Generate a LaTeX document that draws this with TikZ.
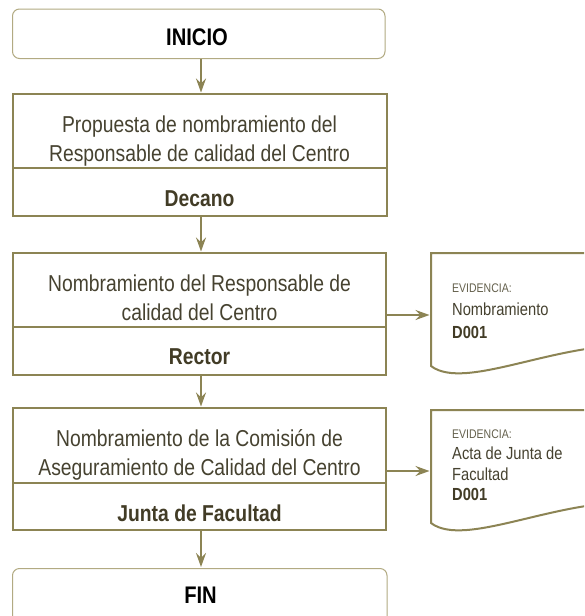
\documentclass[tikz,border=0pt]{standalone}
\usepackage{fontspec}
\setmainfont{Liberation Sans}
\newfontfamily\narrowf{Liberation Sans}[FakeStretch=0.84]
\usetikzlibrary{arrows.meta}
\definecolor{bordercol}{RGB}{140,132,84}
\definecolor{lightbord}{RGB}{178,170,130}
\definecolor{txtcol}{RGB}{70,66,48}
\definecolor{boldcol}{RGB}{66,60,38}
\definecolor{evcol}{RGB}{100,96,76}
\tikzset{
  stepbox/.style={draw=bordercol, line width=2pt, rectangle, inner sep=0pt, outer sep=0pt, minimum width=#1, minimum height=122pt},
  termbox/.style={draw=lightbord, line width=1pt, rectangle, rounded corners=7pt, inner sep=0pt, outer sep=0pt},
  arr/.style={draw=bordercol, line width=2pt, -{Stealth[length=14pt,width=10pt,inset=5pt]}, shorten >=1.5pt},
  divline/.style={draw=bordercol, line width=2pt},
  docshape/.style={draw=bordercol, line width=2pt},
  maintxt/.style={anchor=base, text=txtcol, font=\narrowf\fontsize{23}{28}\selectfont, inner sep=0pt},
  boldtxt/.style={anchor=base, text=boldcol, font=\narrowf\fontsize{23}{28}\selectfont\bfseries, inner sep=0pt},
  termtxt/.style={anchor=base, text=black, font=\narrowf\fontsize{24}{28}\selectfont\bfseries, inner sep=0pt},
  evtxt/.style={anchor=base west, text=evcol, font=\narrowf\fontsize{12.5}{14}\selectfont, inner sep=0pt},
  doctxt/.style={anchor=base west, text=txtcol, font=\narrowf\fontsize{17.5}{20}\selectfont, inner sep=0pt},
  docbold/.style={anchor=base west, text=boldcol, font=\narrowf\fontsize{17.5}{20}\selectfont\bfseries, inner sep=0pt}
}
\begin{document}
\begin{tikzpicture}[x=1pt,y=-1pt]
\clip (0,0) rectangle (584,616);
\fill[white] (0,0) rectangle (584,616);

% terminal boxes
\node[termbox, minimum width=372.5pt, minimum height=49.5pt] (inicio) at (198.75,33.75) {};
\node[termtxt] (tinicio) at (197,45) {INICIO};
\node[termbox, minimum width=374.5pt, minimum height=60pt] (fin) at (199.75,598.5) {};
\node[termtxt] (tfin) at (200.5,603.3) {FIN};

% step 1
\node[stepbox=374pt] (b1) at (199.5,155) {};
\draw[divline] (b1.west |- 0,168) -- (b1.east |- 0,168);
\node[maintxt] (b1a) at (199.5,132.5) {Propuesta de nombramiento del};
\node[maintxt] (b1b) at (199.5,161.5) {Responsable de calidad del Centro};
\node[boldtxt] (b1c) at (199.5,206) {Decano};

% step 2
\node[stepbox=373.5pt] (b2) at (199.25,314) {};
\draw[divline] (b2.west |- 0,327) -- (b2.east |- 0,327);
\node[maintxt] (b2a) at (199.5,291.5) {Nombramiento del Responsable de};
\node[maintxt] (b2b) at (199.5,320.5) {calidad del Centro};
\node[boldtxt] (b2c) at (199.5,364) {Rector};

% step 3
\node[stepbox=373.5pt] (b3) at (199.25,469) {};
\draw[divline] (b3.west |- 0,483) -- (b3.east |- 0,483);
\node[maintxt] (b3a) at (199.5,446.5) {Nombramiento de la Comisi\'on de};
\node[maintxt] (b3b) at (199.5,475.5) {Aseguramiento de Calidad del Centro};
\node[boldtxt] (b3c) at (199.5,521) {Junta de Facultad};

% documents
\node[inner sep=0pt, outer sep=0pt, minimum width=209pt, minimum height=113pt, anchor=north west] (d1) at (431,253) {};
\draw[docshape] (431,253) -- (640,253) -- (640,346) .. controls (560,340) and (465,392) .. (431,366) -- cycle;
\node[evtxt] (d1a) at (452,292) {EVIDENCIA:};
\node[doctxt] (d1b) at (452,315) {Nombramiento};
\node[docbold] (d1c) at (452,338) {D001};

\node[inner sep=0pt, outer sep=0pt, minimum width=209pt, minimum height=113pt, anchor=north west] (d2) at (431,410) {};
\draw[docshape] (431,410) -- (640,410) -- (640,503) .. controls (560,497) and (465,549) .. (431,523) -- cycle;
\node[evtxt] (d2a) at (452,438.3) {EVIDENCIA:};
\node[doctxt] (d2b) at (452,459) {Acta de Junta de};
\node[doctxt] (d2c) at (452,480) {Facultad};
\node[docbold] (d2d) at (452,500) {D001};

% connectors
\draw[arr] (inicio.south -| 201,0) -- (b1.north -| 201,0);
\draw[arr] (b1.south -| 201,0) -- (b2.north -| 201,0);
\draw[arr] (b2.south -| 201,0) -- (b3.north -| 201,0);
\draw[arr] (b3.south -| 201,0) -- (fin.north -| 201,0);
\draw[arr] (b2.east |- 0,315) -- (d1.west |- 0,315);
\draw[arr] (b3.east |- 0,471) -- (d2.west |- 0,471);
\end{tikzpicture}
\end{document}
